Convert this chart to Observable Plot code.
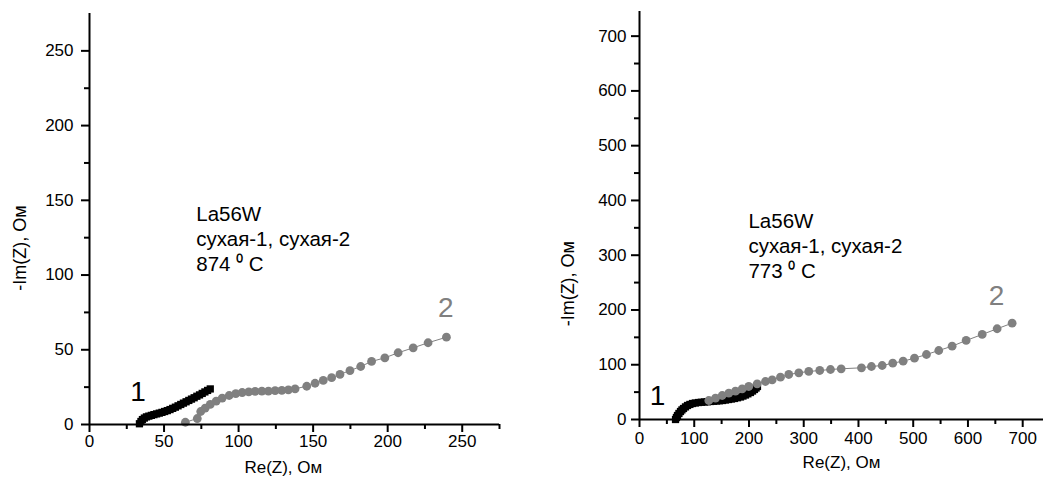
<!DOCTYPE html>
<html>
<head>
<meta charset="utf-8">
<script src="https://cdn.jsdelivr.net/npm/d3@7"></script>
<script src="https://cdn.jsdelivr.net/npm/@observablehq/plot@0.6"></script>
<style>
  html, body { margin: 0; padding: 0; background: #fff; overflow: hidden; }
  #wrap { position: relative; width: 1043px; height: 485px; }
  #left { position: absolute; left: 0; top: 0; }
  #right { position: absolute; left: 540px; top: 0; }
</style>
</head>
<body>
<div id="wrap"><div id="left"></div><div id="right"></div></div>
<script>
// ---- Left panel (874 °C) ----
const left1Re = [33.5,34.5,35.5,36.8,38.2,39.8,41.5,43.2,45,46.8,48.6,50.4,52.2,54,55.8,57.6,59.4,61.2,63,64.8,66.6,68.4,70.2,72,73.8,75.6,77.4,79.2,81];
const left1Im = [0.5,2,3.3,4.3,5.1,5.6,6.1,6.6,7.1,7.6,8.1,8.7,9.3,10,10.8,11.6,12.5,13.4,14.3,15.2,16.1,17,17.9,18.9,19.8,20.8,21.8,22.8,23.8];
const left2Re = [64.3,72.3,74.6,77.6,81,85,89,93.7,98.1,102.4,106.8,111.1,115.6,120,124.5,129,133.4,137.9,145.7,151.3,156.8,162.4,168,174.7,181.9,189.2,198.1,207,217.1,227.1,239.4];
const left2Im = [1.5,4.0,8.7,11.0,13.4,15.7,17.7,19.4,20.7,21.4,21.8,22.1,22.3,22.3,22.6,22.8,23.2,23.9,25.6,27.6,29.5,31.3,33.5,36.1,38.8,42.2,44.6,48,51.3,54.7,58.4];
const leftMajor = [0,50,100,150,200,250];
const leftMinorX = [25,75,125,175,225,275];
const leftMinorY = [25,75,125,175,225];

// ---- Right panel (773 °C) ----
const right1Re = [65.8,67.5,69.4,72,74.9,77.5,80.4,84,87.7,92,96.8,102,107.8,113,118.7,124,129.7,135,140.6,146,151.6,157,162.6,168,173.5,179,184.5,189,193.6,198,202.7,206.5,210,213,215.5];
const right1Im = [0,3.6,7.3,11,14.6,17.5,20.1,23,25.6,27.5,29.2,30.2,31,31.5,32,32.4,32.9,33.3,33.8,34.2,34.7,35.6,36.5,37.4,38.4,39.7,41.1,42.8,44.7,46.9,49.3,52,54.8,57.5,60.3];
const right2Re = [126.6,138.8,151,163.1,175.3,187.6,199.6,215,230.1,242.4,257.5,272.7,291,309.2,329.3,348.9,368.4,405.5,423.7,443.3,462.6,481.6,502.3,524.2,546.7,571.1,596.7,626,653.3,680.7];
const right2Im = [34.7,38.9,43.8,48,51.7,56.1,60.3,65.2,69.4,72.5,77.3,82.2,85.3,87.7,89.5,91.3,92.6,94.4,96.8,98.6,102.8,106.5,112,118.7,126,133.9,144.3,155.3,165.7,175.9];
const rightMajor = [0,100,200,300,400,500,600,700];
const rightMinor = [50,150,250,350,450,550,650];

const annotLeft = "La56W\nсухая-1, сухая-2\n874 \u2070 C";
const annotRight = "La56W\nсухая-1, сухая-2\n773 \u2070 C";
const xTitle = "Re(Z), Ом";
const yTitle = "-Im(Z), Ом";

const GREY = "#808080";
const zip = (xs, ys) => xs.map((x, i) => ({re: x, im: ys[i]}));

function panel(o) {
  const s1 = zip(o.s1Re, o.s1Im);
  const s2 = zip(o.s2Re, o.s2Im);
  return Plot.plot({
    width: o.width, height: 485,
    marginLeft: o.ml, marginRight: o.mr, marginTop: o.mt, marginBottom: o.mb,
    x: {domain: o.xDomain},
    y: {domain: o.yDomain},
    style: {fontFamily: "Liberation Sans, Arial, sans-serif", fontSize: "17px", color: "#000", background: "#fff"},
    marks: [
      Plot.line(s2, {x: "re", y: "im", stroke: GREY, strokeWidth: 1}),
      Plot.line(s1, {x: "re", y: "im", stroke: "#000", strokeWidth: 1}),
      Plot.dot(s1, {x: "re", y: "im", symbol: "square", r: 4.1, fill: "#000", stroke: "none"}),
      Plot.dot(s2, {x: "re", y: "im", r: 4.4, fill: GREY, stroke: "none"}),
      Plot.ruleY([0], {stroke: "#000", strokeWidth: 2}),
      Plot.ruleX([0], {stroke: "#000", strokeWidth: 2}),
      Plot.axisX(o.xMajor, {anchor: "bottom", tickSize: 8, tickPadding: o.xPad, strokeWidth: 2, label: null, fontSize: 17}),
      Plot.axisX(o.xMinor, {anchor: "bottom", tickSize: 5, strokeWidth: 2, label: null, tickFormat: () => ""}),
      Plot.axisY(o.yMajor, {anchor: "left", tickSize: 8, tickPadding: o.yPad, strokeWidth: 2, label: null, fontSize: 17}),
      Plot.axisY(o.yMinor, {anchor: "left", tickSize: 5, strokeWidth: 2, label: null, tickFormat: () => ""}),
      Plot.text([xTitle], {x: o.xtX, y: 0, dy: 43, text: d => d, fontSize: 17, lineAnchor: "middle"}),
      Plot.text([yTitle], {x: 0, y: o.ytY, dx: o.ytDx, text: d => d, rotate: -90, fontSize: 18, lineAnchor: "middle"}),
      Plot.text([o.annot], {x: o.annX, y: o.annY, text: d => d, textAnchor: "start", lineAnchor: "top", fontSize: 20.5, lineHeight: 1.22}),
      Plot.text(["1"], {x: o.l1[0], y: o.l1[1], text: d => d, fontSize: 28, lineAnchor: "middle", fill: "#000"}),
      Plot.text(["2"], {x: o.l2[0], y: o.l2[1], text: d => d, fontSize: 28, lineAnchor: "middle", fill: GREY})
    ]
  });
}

document.getElementById("left").append(panel({
  width: 540, ml: 89, mr: 41, mt: 13, mb: 61,
  xDomain: [0, 275], yDomain: [0, 275],
  s1Re: left1Re, s1Im: left1Im, s2Re: left2Re, s2Im: left2Im,
  xMajor: leftMajor, xMinor: leftMinorX, yMajor: leftMajor, yMinor: leftMinorY,
  xPad: 2, yPad: 8,
  xtX: 130, ytY: 118, ytDx: -69,
  annot: annotLeft, annX: 71.6, annY: 148,
  l1: [32.5, 21.4], l2: [239, 77.6]
}));

document.getElementById("right").append(panel({
  width: 503, ml: 99, mr: 0, mt: 11, mb: 66,
  xDomain: [0, 738], yDomain: [0, 745],
  s1Re: right1Re, s1Im: right1Im, s2Re: right2Re, s2Im: right2Im,
  xMajor: rightMajor, xMinor: rightMinor, yMajor: rightMajor, yMinor: rightMinor,
  xPad: 4, yPad: 5,
  xtX: 369, ytY: 248, ytDx: -71,
  annot: annotRight, annX: 199, annY: 382,
  l1: [33, 42], l2: [652, 226]
}));
</script>
</body>
</html>
